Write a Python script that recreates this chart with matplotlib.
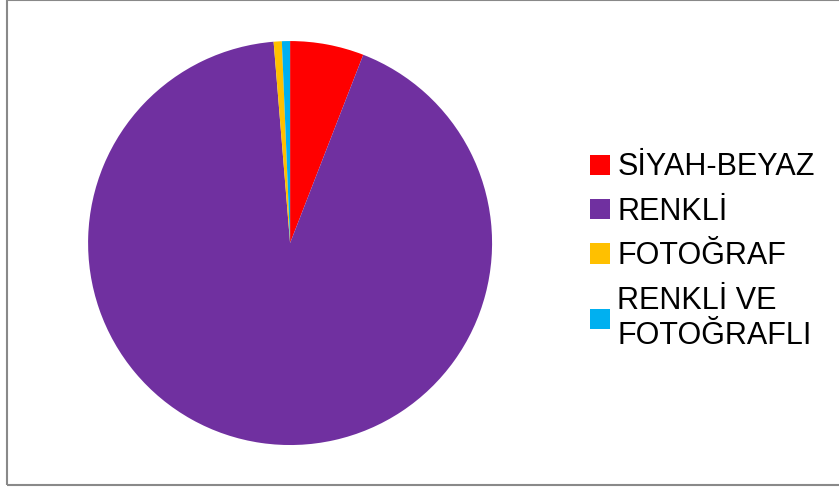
import matplotlib.pyplot as plt
from matplotlib.patches import Rectangle

plt.rcParams['font.family'] = ['Liberation Sans', 'DejaVu Sans']

labels = ["SİYAH-BEYAZ", "RENKLİ", "FOTOĞRAF", "RENKLİ VE\nFOTOĞRAFLI"]
values = [5.9, 92.8, 0.65, 0.65]
colors = ["#FF0000", "#7030A0", "#FFC000", "#00B0F0"]

fig = plt.figure(figsize=(8.39, 4.91), dpi=100)

# outer chart frame
fig.patches.append(Rectangle((7 / 839, 1 - 485 / 491), 1.0, 485 / 491,
                             transform=fig.transFigure, fill=False,
                             edgecolor="#898989", linewidth=1.5))

ax = fig.add_axes([0.105, 0.0936, 0.4815, 0.8228])
wedges, _ = ax.pie(values, colors=colors, startangle=90, counterclock=False,
                   wedgeprops={"linewidth": 0})
ax.set_xlim(-1, 1)
ax.set_ylim(-1, 1)
ax.set_aspect("equal")

leg = fig.legend(wedges, labels, loc="center left", bbox_to_anchor=(0.703, 0.487),
                 frameon=False, fontsize=22, handlelength=0.65, handleheight=0.65,
                 handletextpad=0.25, labelspacing=0.47, borderaxespad=0,
                 borderpad=0)
for t in leg.get_texts():
    t.set_linespacing(1.25)

fig.savefig("out.png", dpi=100)
